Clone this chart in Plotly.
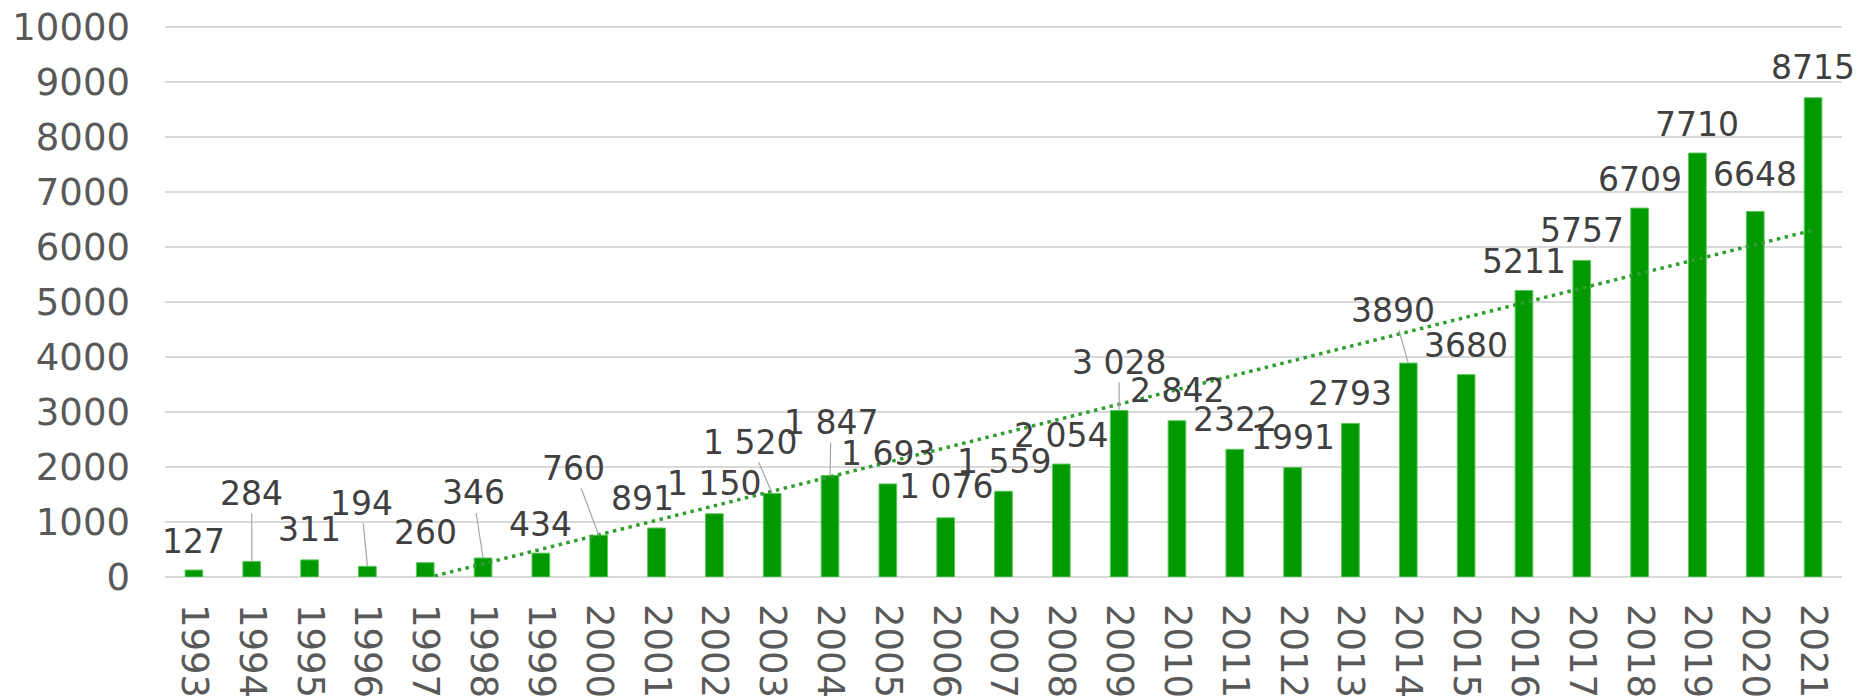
import numpy as np
import plotly.graph_objects as go

years = [str(y) for y in range(1993, 2022)]
values = [127, 284, 311, 194, 260, 346, 434, 760, 891, 1150, 1520, 1847, 1693, 1076,
          1559, 2054, 3028, 2842, 2322, 1991, 2793, 3890, 3680, 5211, 5757, 6709, 7710,
          6648, 8715]
label_texts = ["127", "284", "311", "194", "260", "346", "434", "760", "891", "1 150",
               "1 520", "1 847", "1 693", "1 076", "1 559", "2 054", "3 028", "2 842",
               "2322", "1991", "2793", "3890", "3680", "5211", "5757", "6709", "7710",
               "6648", "8715"]
y_ticks = [0, 1000, 2000, 3000, 4000, 5000, 6000, 7000, 8000, 9000, 10000]

# label placement (pixel offsets of label centre from bar top), and leader-line flags
label_dx = [0, 0, 0, -6, 0, -10, 0, -25, -14, 0, -22, 1, 0, 0, 0, 0, 0, 0, 0, 0, 0,
            -15, 0, 0, 0, 0, 0, 0, 0]
label_dy = [-29, -68, -30, -63, -30, -65, -29, -67, -30, -30, -51, -53, -30, -31, -30,
            -29, -48, -30, -30, -30, -30, -53, -29, -29, -30, -29, -29, -37, -30]
leader = [False, True, False, True, False, True, False, True, False, False, True, True,
          False, False, False, False, True, False, False, False, False, True, False,
          False, False, False, False, False, False]

# linear trendline (least squares, like Excel)
idx = np.arange(len(values))
slope, intercept = np.polyfit(idx, values, 1)
trend = slope * idx + intercept

FONT = "DejaVu Sans"
LABEL_SIZE = 33
fig = go.Figure()
fig.add_trace(go.Bar(
    x=years, y=values,
    marker=dict(color="#009900", line=dict(color="#5cc85c", width=1)),
    hoverinfo="x+y",
))
fig.add_trace(go.Scatter(
    x=years, y=trend, mode="lines",
    line=dict(color="#2f9e2f", width=3.5, dash="3.5px,4.5px"),
    hoverinfo="skip",
))

annotations = []
for i, (v, t, dx, dy, ld) in enumerate(zip(values, label_texts, label_dx, label_dy, leader)):
    if ld:
        annotations.append(dict(
            x=i, y=v, xref="x", yref="y", text=t, showarrow=True,
            arrowhead=0, arrowwidth=1.2, arrowcolor="#a6a6a6",
            ax=dx, ay=dy, font=dict(family=FONT, size=LABEL_SIZE, color="#404040"),
            borderpad=0,
        ))
    else:
        annotations.append(dict(
            x=i, y=v, xref="x", yref="y", text=t, showarrow=False,
            xshift=dx, yshift=-dy, xanchor="center", yanchor="middle",
            font=dict(family=FONT, size=LABEL_SIZE, color="#404040"),
            borderpad=0,
        ))

fig.update_layout(
    width=1858, height=696,
    margin=dict(l=165, r=16, t=26, b=119, autoexpand=False),
    paper_bgcolor="white", plot_bgcolor="white",
    showlegend=False,
    bargap=0.694,
    annotations=annotations,
    font=dict(family=FONT),
)
fig.update_xaxes(
    type="category", tickangle=90, range=[-0.5, len(years) - 0.5],
    tickfont=dict(family=FONT, size=37, color="#595959"),
    showgrid=False, showline=False, zeroline=False, ticks="",
    ticklabelstandoff=26, automargin=False,
)
fig.update_yaxes(
    range=[0, 10020], tickvals=y_ticks, ticktext=[str(t) for t in y_ticks],
    tickfont=dict(family=FONT, size=37, color="#595959"),
    showgrid=True, gridcolor="#d9d9d9", gridwidth=1.5,
    zeroline=True, zerolinecolor="#d9d9d9", zerolinewidth=1.5,
    showline=False, ticks="", ticklabelstandoff=34, automargin=False,
)

fig.write_html("out.html", config={"displayModeBar": False},
               post_script="document.body.style.margin='0px';")
